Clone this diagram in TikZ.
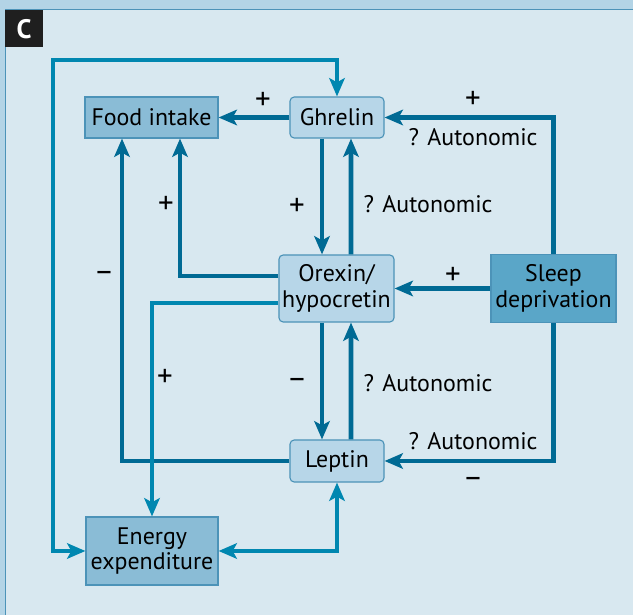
\documentclass[tikz,border=0pt]{standalone}
\usepackage{fontspec}
\setmainfont{PT Sans}
\usetikzlibrary{arrows.meta,calc}
\definecolor{panel}{HTML}{D8E8F0}
\definecolor{strip}{HTML}{B3D4E6}
\definecolor{frame}{HTML}{4C93B8}
\definecolor{boxmid}{HTML}{8ABCD6}
\definecolor{boxlight}{HTML}{B7D6E8}
\definecolor{boxdark}{HTML}{5AA6C8}
\definecolor{linedark}{HTML}{006A94}
\definecolor{linelight}{HTML}{0087B0}
\tikzset{
  box/.style={draw=frame, line width=0.8pt, align=center, inner sep=0pt,
    font=\fontsize{17}{18}\selectfont},
  effect/.style={box, fill=boxmid},
  hormone/.style={box, fill=boxlight, rounded corners=3pt},
  cause/.style={box, fill=boxdark},
  dk/.style={draw=linedark, line width=3.5pt},
  lt/.style={draw=linelight, line width=3.5pt},
  lbl/.style={font=\fontsize{17}{18}\selectfont},
  sign/.style={font=\fontsize{22}{22}\selectfont}
}
\begin{document}
\begin{tikzpicture}[x=0.025cm, y=-0.025cm, >={Stealth[length=13pt,width=11pt,inset=3pt]}]
	\useasboundingbox (0,0) rectangle (633,615);
	% panel
	\fill[strip] (0,0) rectangle (633,615);
	\fill[panel] (5,9.5) rectangle (633,615);
	\draw[frame, line width=0.7pt] (5,615) -- (5,9.5) -- (633,9.5);
	\fill[black!88] (5,10) rectangle (43,47);
	\node[white, font=\fontsize{19}{20}\selectfont\bfseries] (tag) at (24,29) {C};
	% boxes
	\node[effect, minimum width=3.325cm, minimum height=1.025cm] (food) at (151.5,117.5) {Food intake};
	\node[hormone, minimum width=2.35cm, minimum height=1.025cm] (ghr) at (337,117.5) {Ghrelin};
	\node[hormone, minimum width=2.875cm, minimum height=1.675cm] (orx) at (336.5,288.5) {Orexin/\\hypocretin};
	\node[cause, minimum width=3.125cm, minimum height=1.7cm] (slp) at (553.5,288.5) {Sleep\\deprivation};
	\node[hormone, minimum width=2.35cm, minimum height=1.05cm] (lep) at (337,461) {Leptin};
	\node[effect, minimum width=3.3cm, minimum height=1.7cm] (eng) at (152,551) {Energy\\expenditure};
	\coordinate (loop) at (53,60);
	% dark connectors
	\draw[dk,->] (ghr) -- (food);
	\draw[dk,->] (slp.north) |- (ghr.east);
	\draw[dk,->] ($(ghr.south)+(-15,0)$) -- ($(orx.north)+(-14.5,0)$);
	\draw[dk,->] ($(orx.north)+(14.5,0)$) -- ($(ghr.south)+(14,0)$);
	\draw[dk,->] ($(orx.west)+(0,-12.5)$) -| ($(food.south)+(28.5,0)$);
	\draw[dk,->] (lep.west) -| ($(food.south)+(-29.5,0)$);
	\draw[dk,->] (slp.west) -- (orx.east);
	\draw[dk,->] ($(orx.south)+(-14.5,0)$) -- ($(lep.north)+(-15,0)$);
	\draw[dk,->] ($(lep.north)+(14,0)$) -- ($(orx.south)+(14.5,0)$);
	\draw[dk,->] (slp.south) |- (lep.east);
	% light connectors
	\draw[lt,<->] (eng.west) -| (loop) -| (ghr.north);
	\draw[lt,->] ($(orx.west)+(0,14.5)$) -| (eng.north);
	\draw[lt,<->] (eng.east) -| (lep.south);
	% labels
	\node[sign] (p1) at (263,101) {+};
	\node[sign] (p2) at (473,100) {+};
	\node[lbl] (a1) at (473,137) {? Autonomic};
	\node[sign] (p3) at (297,207) {+};
	\node[lbl] (a2) at (428,204) {? Autonomic};
	\node[sign] (p4) at (166,205) {+};
	\node[sign] (m1) at (104,276) {--};
	\node[sign] (p5) at (453,276) {+};
	\node[sign] (p6) at (165,378) {+};
	\node[sign] (m2) at (297,383) {--};
	\node[lbl] (a3) at (428,383) {? Autonomic};
	\node[lbl] (a4) at (473,441) {? Autonomic};
	\node[sign] (m3) at (473,482) {--};
\end{tikzpicture}
\end{document}
